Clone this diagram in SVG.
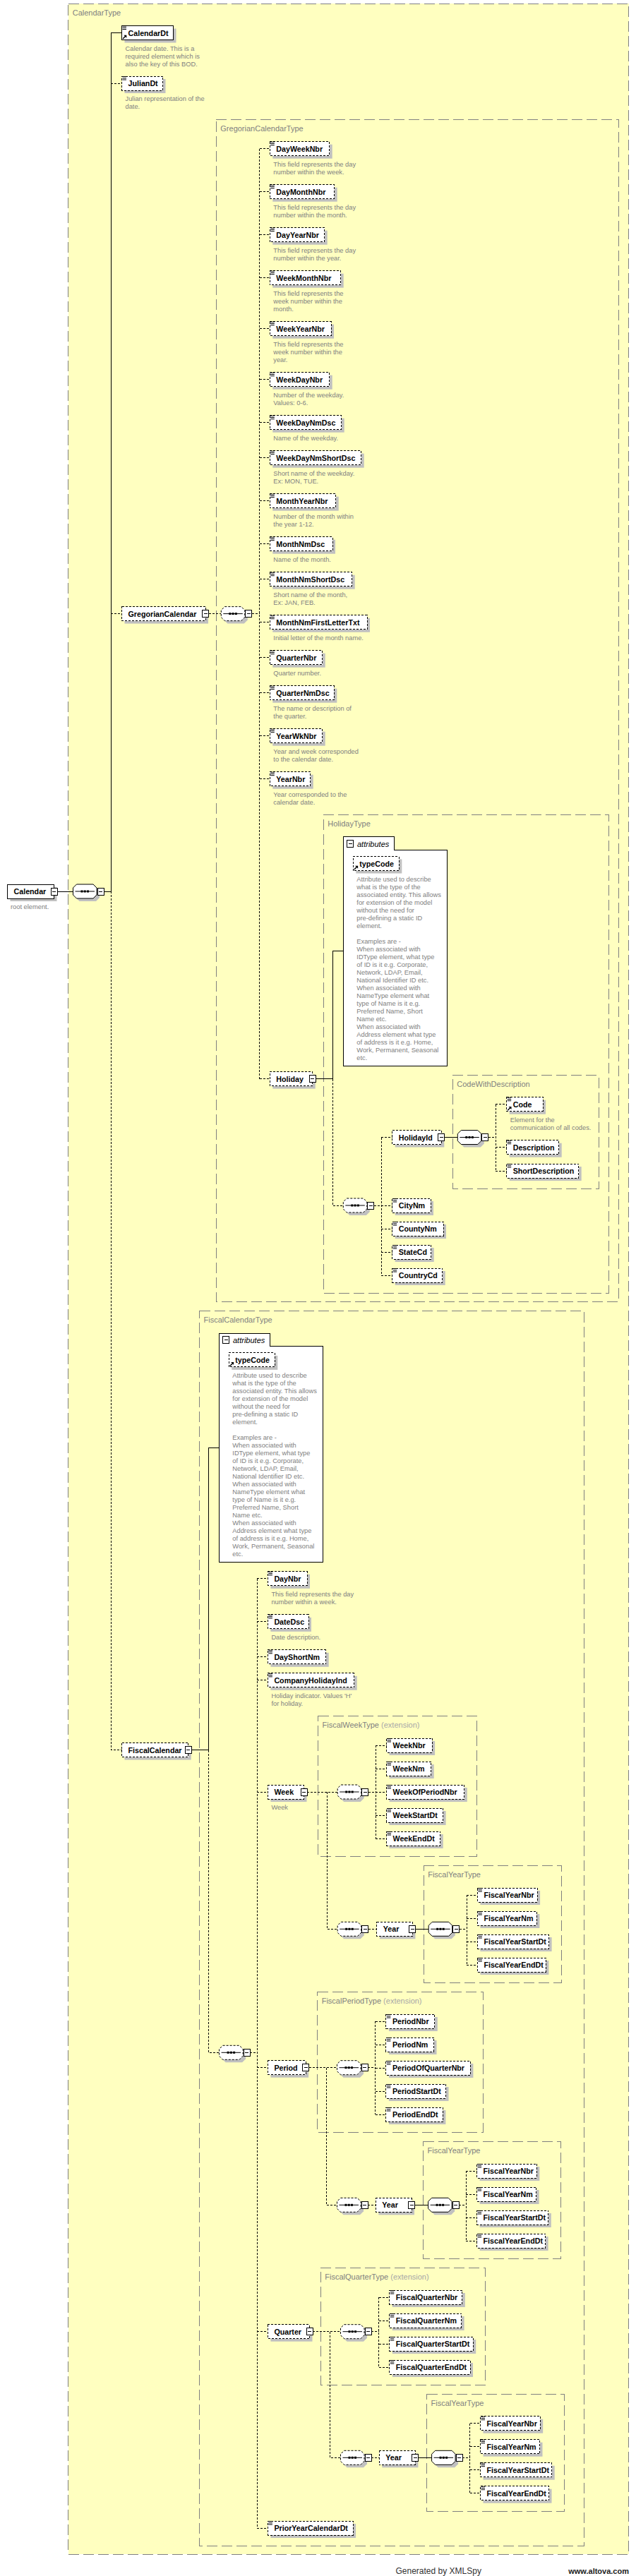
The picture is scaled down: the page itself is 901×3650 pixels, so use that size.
<svg xmlns="http://www.w3.org/2000/svg" width="901" height="3650" viewBox="0 0 901 3650">
<style>
.ct{fill:#FFFFC0;stroke:#808080;stroke-dasharray:15,6;shape-rendering:crispEdges}
.sh{fill:#C0C0C0;stroke:none}
.m{fill:#fff;stroke:#000;shape-rendering:crispEdges}
.o{fill:#fff;stroke:#000;stroke-dasharray:3,2;shape-rendering:crispEdges}
.ab{fill:#fff;stroke:#000;shape-rendering:crispEdges}
.cs{fill:none;stroke:#000;shape-rendering:crispEdges}
.cd{fill:none;stroke:#000;stroke-dasharray:3,2;shape-rendering:crispEdges}
.t{font-family:"Liberation Sans",Arial,sans-serif;font-size:10.7px;font-weight:bold;fill:#000}
.d{font-family:"Liberation Sans",Arial,sans-serif;font-size:9.3px;fill:#808080}
.l{font-family:"Liberation Sans",Arial,sans-serif;font-size:11px;fill:#808080}
.x{fill:#a8a8a8}
.a{font-family:"Liberation Sans",Arial,sans-serif;font-size:11px;font-style:italic;fill:#000}
.f{font-family:"Liberation Sans",Arial,sans-serif;font-size:12px;fill:#333}
.fb{font-family:"Liberation Sans",Arial,sans-serif;font-size:11px;font-weight:bold;fill:#222}
</style>
<defs>
<g id="mn"><rect x="-4.5" y="-5" width="9" height="10" fill="#fff" stroke="#000" shape-rendering="crispEdges"/><path d="M-2.5,0H2.5" stroke="#000" shape-rendering="crispEdges"/></g>
<g id="dc"><path d="M1,0.5H6.5M1,2.8H6.5M1,5H6.5" stroke="#000" stroke-width="1"/></g>
<g id="rf"><path d="M1.5,18.5L5.5,14.5" stroke="#000" stroke-width="1.4"/><path d="M2.8,13.2H6.8V17.2Z" fill="#000"/></g>
<g id="sqd"><path class="sh" d="M9,-6H32.5L37.5,-1V9L32.5,14H9L4,9V-1Z"/><path d="M5,-10H28.5L33.5,-5V5L28.5,10H5L0,5V-5Z" fill="#fff" stroke="#000" stroke-dasharray="3,2"/><path d="M3,0H30.5" stroke="#000"/><rect x="11" y="-1.5" width="3" height="3"/><rect x="15.25" y="-1.5" width="3" height="3"/><rect x="19.5" y="-1.5" width="3" height="3"/></g>
<g id="sqs"><path class="sh" d="M9,-6H32.5L37.5,-1V9L32.5,14H9L4,9V-1Z"/><path d="M5,-10H28.5L33.5,-5V5L28.5,10H5L0,5V-5Z" fill="#fff" stroke="#000"/><path d="M3,0H30.5" stroke="#000"/><rect x="11" y="-1.5" width="3" height="3"/><rect x="15.25" y="-1.5" width="3" height="3"/><rect x="19.5" y="-1.5" width="3" height="3"/></g>
</defs>
<rect x="0" y="0" width="901" height="3650" fill="#fff"/>

<!-- type containers -->
<g id="types">
<rect class="ct" x="96.7" y="5.3" width="794" height="3614"/>
<text class="l" x="102.7" y="22">CalendarType</text>
<rect class="ct" x="306.3" y="169" width="570.4" height="1675.3"/>
<text class="l" x="312.3" y="185.7">GregorianCalendarType</text>
<rect class="ct" x="458.3" y="1154.3" width="404" height="678"/>
<text class="l" x="464.3" y="1171">HolidayType</text>
<rect class="ct" x="641.3" y="1523.7" width="207" height="160.3"/>
<text class="l" x="647.3" y="1540.4">CodeWithDescription</text>
<rect class="ct" x="282.5" y="1857.3" width="544.8" height="1749.7"/>
<text class="l" x="288.5" y="1874">FiscalCalendarType</text>
<rect class="ct" x="450.5" y="2431.7" width="225" height="198.6"/>
<text class="l" x="456.5" y="2448.4">FiscalWeekType<tspan class="x"> (extension)</tspan></text>
<rect class="ct" x="600.2" y="2643.3" width="195" height="166"/>
<text class="l" x="606.2" y="2660">FiscalYearType</text>
<rect class="ct" x="449.7" y="2822.5" width="234.6" height="198.5"/>
<text class="l" x="455.7" y="2839.2">FiscalPeriodType<tspan class="x"> (extension)</tspan></text>
<rect class="ct" x="599.6" y="3034.3" width="194.7" height="165.7"/>
<text class="l" x="605.6" y="3051">FiscalYearType</text>
<rect class="ct" x="454.3" y="3213.3" width="233.3" height="165.7"/>
<text class="l" x="460.3" y="3230">FiscalQuarterType<tspan class="x"> (extension)</tspan></text>
<rect class="ct" x="604.6" y="3392.3" width="194.7" height="166"/>
<text class="l" x="610.6" y="3409">FiscalYearType</text>
</g>

<!-- connectors -->
<g id="connectors">
<path class="cs" d="M81,1263H103.5M147,1263H157.3M157.3,46.5V1263M157.3,46.5H172.5"/>
<path class="cd" d="M157.3,118H172.5M157.3,869.6H172.5M157.3,1263V2479.6H172.5"/>
<path class="cd" d="M295.5,869.6H313.3M356.8,869.6H367.5M367.5,210.7V1528.6"/>
<path class="cd" d="M367.5,210.7H382.3M367.5,271.7H382.3M367.5,332.7H382.3M367.5,393.7H382.3M367.5,465.7H382.3M367.5,537.7H382.3M367.5,598.7H382.3M367.5,648.7H382.3M367.5,709.7H382.3M367.5,770.7H382.3M367.5,820.7H382.3M367.5,881.7H382.3M367.5,931.7H382.3M367.5,981.7H382.3M367.5,1042.7H382.3M367.5,1103.7H382.3M367.5,1528.6H382.3"/>
<path class="cs" d="M447.2,1528.6H471.3V1347.9H486.3"/>
<path class="cd" d="M471.3,1528.6V1708H486.3M529.8,1708H540.3M540.3,1611.5V1807M540.3,1611.5H555.7M540.3,1708H555.7M540.3,1741H555.7M540.3,1774H555.7M540.3,1807H555.7"/>
<path class="cs" d="M629.8,1611.5H648.3"/>
<path class="cd" d="M691.8,1611.5H702.3M702.3,1564.7V1659M702.3,1564.7H717.7M702.3,1625.7H717.7M702.3,1659H717.7"/>
<path class="cs" d="M271.2,2479.6H295.3V2051.3H310.3"/>
<path class="cd" d="M295.3,2479.6V2908.3H310.6M354.1,2908.3H364.3M364.3,2236.8V3582M364.3,2236.8H379.4M364.3,2297.8H379.4M364.3,2347.8H379.4M364.3,2380.8H379.4M364.3,2539H379.4M364.3,2929.7H379.4M364.3,3303.7H379.4M364.3,3582H379.4"/>
<path class="cd" d="M435,2539H478.2M463.5,2539V2733.3H478.2M521.7,2539H532.4M532.4,2473V2605M532.4,2473H547.5M532.4,2506H547.5M532.4,2539H547.5M532.4,2572H547.5M532.4,2605H547.5M521.7,2733.3H533.8"/>
<path class="cs" d="M588.9,2733.3H607.2"/>
<path class="cd" d="M650.7,2733.3H661.3M661.3,2685V2784M661.3,2685H676.4M661.3,2718H676.4M661.3,2751H676.4M661.3,2784H676.4"/>
<path class="cd" d="M437.6,2929.7H477.5M462.6,2929.7V3124.3H477.5M521,2929.7H531.5M531.5,2864V2996M531.5,2864H546.9M531.5,2897H546.9M531.5,2930H546.9M531.5,2963H546.9M531.5,2996H546.9M521,3124.3H532.3"/>
<path class="cs" d="M587.5,3124.3H606.6"/>
<path class="cd" d="M650.1,3124.3H660.2M660.2,3076V3175M660.2,3076H675.6M660.2,3109H675.6M660.2,3142H675.6M660.2,3175H675.6"/>
<path class="cd" d="M443,3303.7H482.5M467.6,3303.7V3482.3H482.5M526,3303.7H536.5M536.5,3255V3354M536.5,3255H551.8M536.5,3288H551.8M536.5,3321H551.8M536.5,3354H551.8M526,3482.3H537.3"/>
<path class="cs" d="M592.9,3482.3H611.6"/>
<path class="cd" d="M655.1,3482.3H665.6M665.6,3433.7V3532.7M665.6,3433.7H680.5M665.6,3466.7H680.5M665.6,3499.7H680.5M665.6,3532.7H680.5"/>
</g>

<!-- root -->
<g id="e-Calendar"><rect class="sh" x="14.5" y="1257" width="66" height="20"/><rect class="m" x="10.5" y="1253" width="66" height="20"/><text class="t" x="19.5" y="1267">Calendar</text><use href="#mn" x="76.5" y="1263"/><text class="d" x="15" y="1288">root element.</text></g>
<g id="s-root"><use href="#sqs" x="103.5" y="1263"/><use href="#mn" x="142.5" y="1263"/></g>

<g id="e-CalendarDt"><rect class="sh" x="176.5" y="40.5" width="73" height="20"/><rect class="m" x="172.5" y="36.5" width="73" height="20"/><use href="#dc" x="172.5" y="36.5"/><use href="#rf" x="172.5" y="36.5"/><text class="t" x="181.5" y="50.5">CalendarDt</text><text class="d"><tspan x="177.5" y="71.5">Calendar date. This is a</tspan><tspan x="177.5" y="82.5">required element which is</tspan><tspan x="177.5" y="93.5">also the key of this BOD.</tspan></text></g>
<g id="e-JulianDt"><rect class="sh" x="176.5" y="112" width="58" height="20"/><rect class="o" x="172.5" y="108" width="58" height="20"/><use href="#dc" x="172.5" y="108"/><text class="t" x="181.5" y="122">JulianDt</text><text class="d"><tspan x="177.5" y="143">Julian representation of the</tspan><tspan x="177.5" y="154">date.</tspan></text></g>
<g id="e-GregorianCalendar"><rect class="sh" x="176.5" y="863.6" width="118.5" height="20"/><rect class="o" x="172.5" y="859.6" width="118.5" height="20"/><text class="t" x="181.5" y="873.6">GregorianCalendar</text><use href="#mn" x="291" y="869.6"/></g>
<g id="e-FiscalCalendar"><rect class="sh" x="176.5" y="2473.6" width="94.2" height="20"/><rect class="o" x="172.5" y="2469.6" width="94.2" height="20"/><text class="t" x="181.5" y="2483.6">FiscalCalendar</text><use href="#mn" x="266.7" y="2479.6"/></g>

<!-- Gregorian -->
<g id="s-greg"><use href="#sqd" x="313.3" y="869.6"/><use href="#mn" x="352.3" y="869.6"/></g>
<g id="e-DayWeekNbr"><rect class="sh" x="386.3" y="204.7" width="84.4" height="20"/><rect class="o" x="382.3" y="200.7" width="84.4" height="20"/><use href="#dc" x="382.3" y="200.7"/><text class="t" x="391.3" y="214.7">DayWeekNbr</text><text class="d"><tspan x="387.3" y="235.7">This field represents the day</tspan><tspan x="387.3" y="246.7">number within the week.</tspan></text></g>
<g id="e-DayMonthNbr"><rect class="sh" x="386.3" y="265.7" width="91.4" height="20"/><rect class="o" x="382.3" y="261.7" width="91.4" height="20"/><use href="#dc" x="382.3" y="261.7"/><text class="t" x="391.3" y="275.7">DayMonthNbr</text><text class="d"><tspan x="387.3" y="296.7">This field represents the day</tspan><tspan x="387.3" y="307.7">number within the month.</tspan></text></g>
<g id="e-DayYearNbr"><rect class="sh" x="386.3" y="326.7" width="77.4" height="20"/><rect class="o" x="382.3" y="322.7" width="77.4" height="20"/><use href="#dc" x="382.3" y="322.7"/><text class="t" x="391.3" y="336.7">DayYearNbr</text><text class="d"><tspan x="387.3" y="357.7">This field represents the day</tspan><tspan x="387.3" y="368.7">number within the year.</tspan></text></g>
<g id="e-WeekMonthNbr"><rect class="sh" x="386.3" y="387.7" width="100.4" height="20"/><rect class="o" x="382.3" y="383.7" width="100.4" height="20"/><use href="#dc" x="382.3" y="383.7"/><text class="t" x="391.3" y="397.7">WeekMonthNbr</text><text class="d"><tspan x="387.3" y="418.7">This field represents the</tspan><tspan x="387.3" y="429.7">week number within the</tspan><tspan x="387.3" y="440.7">month.</tspan></text></g>
<g id="e-WeekYearNbr"><rect class="sh" x="386.3" y="459.7" width="86.7" height="20"/><rect class="o" x="382.3" y="455.7" width="86.7" height="20"/><use href="#dc" x="382.3" y="455.7"/><text class="t" x="391.3" y="469.7">WeekYearNbr</text><text class="d"><tspan x="387.3" y="490.7">This field represents the</tspan><tspan x="387.3" y="501.7">week number within the</tspan><tspan x="387.3" y="512.7">year.</tspan></text></g>
<g id="e-WeekDayNbr"><rect class="sh" x="386.3" y="531.7" width="84.4" height="20"/><rect class="o" x="382.3" y="527.7" width="84.4" height="20"/><use href="#dc" x="382.3" y="527.7"/><text class="t" x="391.3" y="541.7">WeekDayNbr</text><text class="d"><tspan x="387.3" y="562.7">Number of the weekday.</tspan><tspan x="387.3" y="573.7">Values: 0-6.</tspan></text></g>
<g id="e-WeekDayNmDsc"><rect class="sh" x="386.3" y="592.7" width="101.4" height="20"/><rect class="o" x="382.3" y="588.7" width="101.4" height="20"/><use href="#dc" x="382.3" y="588.7"/><text class="t" x="391.3" y="602.7">WeekDayNmDsc</text><text class="d" x="387.3" y="623.7">Name of the weekday.</text></g>
<g id="e-WeekDayNmShortDsc"><rect class="sh" x="386.3" y="642.7" width="129.4" height="20"/><rect class="o" x="382.3" y="638.7" width="129.4" height="20"/><use href="#dc" x="382.3" y="638.7"/><text class="t" x="391.3" y="652.7">WeekDayNmShortDsc</text><text class="d"><tspan x="387.3" y="673.7">Short name of the weekday.</tspan><tspan x="387.3" y="684.7">Ex: MON, TUE.</tspan></text></g>
<g id="e-MonthYearNbr"><rect class="sh" x="386.3" y="703.7" width="93.4" height="20"/><rect class="o" x="382.3" y="699.7" width="93.4" height="20"/><use href="#dc" x="382.3" y="699.7"/><text class="t" x="391.3" y="713.7">MonthYearNbr</text><text class="d"><tspan x="387.3" y="734.7">Number of the month within</tspan><tspan x="387.3" y="745.7">the year 1-12.</tspan></text></g>
<g id="e-MonthNmDsc"><rect class="sh" x="386.3" y="764.7" width="88.7" height="20"/><rect class="o" x="382.3" y="760.7" width="88.7" height="20"/><use href="#dc" x="382.3" y="760.7"/><text class="t" x="391.3" y="774.7">MonthNmDsc</text><text class="d" x="387.3" y="795.7">Name of the month.</text></g>
<g id="e-MonthNmShortDsc"><rect class="sh" x="386.3" y="814.7" width="116.4" height="20"/><rect class="o" x="382.3" y="810.7" width="116.4" height="20"/><use href="#dc" x="382.3" y="810.7"/><text class="t" x="391.3" y="824.7">MonthNmShortDsc</text><text class="d"><tspan x="387.3" y="845.7">Short name of the month,</tspan><tspan x="387.3" y="856.7">Ex: JAN, FEB.</tspan></text></g>
<g id="e-MonthNmFirstLetterTxt"><rect class="sh" x="386.3" y="875.7" width="137.7" height="20"/><rect class="o" x="382.3" y="871.7" width="137.7" height="20"/><use href="#dc" x="382.3" y="871.7"/><text class="t" x="391.3" y="885.7">MonthNmFirstLetterTxt</text><text class="d" x="387.3" y="906.7">Initial letter of the month name.</text></g>
<g id="e-QuarterNbr"><rect class="sh" x="386.3" y="925.7" width="74.4" height="20"/><rect class="o" x="382.3" y="921.7" width="74.4" height="20"/><use href="#dc" x="382.3" y="921.7"/><text class="t" x="391.3" y="935.7">QuarterNbr</text><text class="d" x="387.3" y="956.7">Quarter number.</text></g>
<g id="e-QuarterNmDsc"><rect class="sh" x="386.3" y="975.7" width="91" height="20"/><rect class="o" x="382.3" y="971.7" width="91" height="20"/><use href="#dc" x="382.3" y="971.7"/><text class="t" x="391.3" y="985.7">QuarterNmDsc</text><text class="d"><tspan x="387.3" y="1006.7">The name or description of</tspan><tspan x="387.3" y="1017.7">the quarter.</tspan></text></g>
<g id="e-YearWkNbr"><rect class="sh" x="386.3" y="1036.7" width="74.4" height="20"/><rect class="o" x="382.3" y="1032.7" width="74.4" height="20"/><use href="#dc" x="382.3" y="1032.7"/><text class="t" x="391.3" y="1046.7">YearWkNbr</text><text class="d"><tspan x="387.3" y="1067.7">Year and week corresponded</tspan><tspan x="387.3" y="1078.7">to the calendar date.</tspan></text></g>
<g id="e-YearNbr"><rect class="sh" x="386.3" y="1097.7" width="57.4" height="20"/><rect class="o" x="382.3" y="1093.7" width="57.4" height="20"/><use href="#dc" x="382.3" y="1093.7"/><text class="t" x="391.3" y="1107.7">YearNbr</text><text class="d"><tspan x="387.3" y="1128.7">Year corresponded to the</tspan><tspan x="387.3" y="1139.7">calendar date.</tspan></text></g>
<g id="e-Holiday"><rect class="sh" x="386.3" y="1522.6" width="60.4" height="20"/><rect class="o" x="382.3" y="1518.6" width="60.4" height="20"/><text class="t" x="391.3" y="1532.6">Holiday</text><use href="#mn" x="442.7" y="1528.6"/></g>

<!-- Holiday attributes -->
<g id="attr-holiday">
<path class="ab" d="M486.3,1185.7H558.3V1204.3H633.3V1510H486.3Z"/>
<use href="#mn" x="496.2" y="1195.5"/>
<text class="a" x="506" y="1199.5">attributes</text>
<rect class="sh" x="504.3" y="1217.5" width="65" height="20"/><rect class="o" x="500.3" y="1213.5" width="65" height="20"/><use href="#rf" x="500.3" y="1213.5"/><text class="t" x="509.3" y="1227.5">typeCode</text>
<text class="d"><tspan x="505.3" y="1249">Attribute used to describe</tspan><tspan x="505.3" y="1260">what is the type of the</tspan><tspan x="505.3" y="1271">associated entity. This allows</tspan><tspan x="505.3" y="1282">for extension of the model</tspan><tspan x="505.3" y="1293">without the need for</tspan><tspan x="505.3" y="1304">pre-defining a static ID</tspan><tspan x="505.3" y="1315">element.</tspan><tspan x="505.3" y="1337">Examples are -</tspan><tspan x="505.3" y="1348">When associated with</tspan><tspan x="505.3" y="1359">IDType element, what type</tspan><tspan x="505.3" y="1370">of ID is it e.g. Corporate,</tspan><tspan x="505.3" y="1381">Network, LDAP, Email,</tspan><tspan x="505.3" y="1392">National Identifier ID etc.</tspan><tspan x="505.3" y="1403">When associated with</tspan><tspan x="505.3" y="1414">NameType element what</tspan><tspan x="505.3" y="1425">type of Name is it e.g.</tspan><tspan x="505.3" y="1436">Preferred Name, Short</tspan><tspan x="505.3" y="1447">Name etc.</tspan><tspan x="505.3" y="1458">When associated with</tspan><tspan x="505.3" y="1469">Address element what type</tspan><tspan x="505.3" y="1480">of address is it e.g. Home,</tspan><tspan x="505.3" y="1491">Work, Permanent, Seasonal</tspan><tspan x="505.3" y="1502">etc.</tspan></text>
</g>

<g id="s-holiday"><use href="#sqd" x="486.3" y="1708"/><use href="#mn" x="525.3" y="1708"/></g>
<g id="e-HolidayId"><rect class="sh" x="559.7" y="1605.5" width="69.6" height="20"/><rect class="o" x="555.7" y="1601.5" width="69.6" height="20"/><text class="t" x="564.7" y="1615.5">HolidayId</text><use href="#mn" x="625.3" y="1611.5"/></g>
<g id="s-cwd"><use href="#sqs" x="648.3" y="1611.5"/><use href="#mn" x="687.3" y="1611.5"/></g>
<g id="e-Code"><rect class="sh" x="721.7" y="1558.7" width="51.3" height="20"/><rect class="o" x="717.7" y="1554.7" width="51.3" height="20"/><use href="#dc" x="717.7" y="1554.7"/><use href="#rf" x="717.7" y="1554.7"/><text class="t" x="726.7" y="1568.7">Code</text><text class="d"><tspan x="722.7" y="1589.7">Element for the</tspan><tspan x="722.7" y="1600.7">communication of all codes.</tspan></text></g>
<g id="e-Description"><rect class="sh" x="721.7" y="1619.7" width="74" height="20"/><rect class="o" x="717.7" y="1615.7" width="74" height="20"/><use href="#dc" x="717.7" y="1615.7"/><text class="t" x="726.7" y="1629.7">Description</text></g>
<g id="e-ShortDescription"><rect class="sh" x="721.7" y="1653" width="102" height="20"/><rect class="o" x="717.7" y="1649" width="102" height="20"/><use href="#dc" x="717.7" y="1649"/><text class="t" x="726.7" y="1663">ShortDescription</text></g>
<g id="e-CityNm"><rect class="sh" x="559.7" y="1702" width="54.3" height="20"/><rect class="o" x="555.7" y="1698" width="54.3" height="20"/><use href="#dc" x="555.7" y="1698"/><text class="t" x="564.7" y="1712">CityNm</text></g>
<g id="e-CountyNm"><rect class="sh" x="559.7" y="1735" width="72.3" height="20"/><rect class="o" x="555.7" y="1731" width="72.3" height="20"/><use href="#dc" x="555.7" y="1731"/><text class="t" x="564.7" y="1745">CountyNm</text></g>
<g id="e-StateCd"><rect class="sh" x="559.7" y="1768" width="55" height="20"/><rect class="o" x="555.7" y="1764" width="55" height="20"/><use href="#dc" x="555.7" y="1764"/><text class="t" x="564.7" y="1778">StateCd</text></g>
<g id="e-CountryCd"><rect class="sh" x="559.7" y="1801" width="71" height="20"/><rect class="o" x="555.7" y="1797" width="71" height="20"/><use href="#dc" x="555.7" y="1797"/><text class="t" x="564.7" y="1811">CountryCd</text></g>

<!-- Fiscal attributes -->
<g id="attr-fiscal" transform="translate(-176,703.4)">
<path class="ab" d="M486.3,1185.7H558.3V1204.3H633.3V1510H486.3Z"/>
<use href="#mn" x="496.2" y="1195.5"/>
<text class="a" x="506" y="1199.5">attributes</text>
<rect class="sh" x="504.3" y="1217.5" width="65" height="20"/><rect class="o" x="500.3" y="1213.5" width="65" height="20"/><use href="#rf" x="500.3" y="1213.5"/><text class="t" x="509.3" y="1227.5">typeCode</text>
<text class="d"><tspan x="505.3" y="1249">Attribute used to describe</tspan><tspan x="505.3" y="1260">what is the type of the</tspan><tspan x="505.3" y="1271">associated entity. This allows</tspan><tspan x="505.3" y="1282">for extension of the model</tspan><tspan x="505.3" y="1293">without the need for</tspan><tspan x="505.3" y="1304">pre-defining a static ID</tspan><tspan x="505.3" y="1315">element.</tspan><tspan x="505.3" y="1337">Examples are -</tspan><tspan x="505.3" y="1348">When associated with</tspan><tspan x="505.3" y="1359">IDType element, what type</tspan><tspan x="505.3" y="1370">of ID is it e.g. Corporate,</tspan><tspan x="505.3" y="1381">Network, LDAP, Email,</tspan><tspan x="505.3" y="1392">National Identifier ID etc.</tspan><tspan x="505.3" y="1403">When associated with</tspan><tspan x="505.3" y="1414">NameType element what</tspan><tspan x="505.3" y="1425">type of Name is it e.g.</tspan><tspan x="505.3" y="1436">Preferred Name, Short</tspan><tspan x="505.3" y="1447">Name etc.</tspan><tspan x="505.3" y="1458">When associated with</tspan><tspan x="505.3" y="1469">Address element what type</tspan><tspan x="505.3" y="1480">of address is it e.g. Home,</tspan><tspan x="505.3" y="1491">Work, Permanent, Seasonal</tspan><tspan x="505.3" y="1502">etc.</tspan></text>
</g>

<!-- Fiscal -->
<g id="s-fiscal"><use href="#sqd" x="310.6" y="2908.3"/><use href="#mn" x="349.6" y="2908.3"/></g>
<g id="e-DayNbr"><rect class="sh" x="383.4" y="2230.8" width="55.6" height="20"/><rect class="o" x="379.4" y="2226.8" width="55.6" height="20"/><use href="#dc" x="379.4" y="2226.8"/><text class="t" x="388.4" y="2240.8">DayNbr</text><text class="d"><tspan x="384.4" y="2261.8">This field represents the day</tspan><tspan x="384.4" y="2272.8">number within a week.</tspan></text></g>
<g id="e-DateDsc"><rect class="sh" x="383.4" y="2291.8" width="57.6" height="20"/><rect class="o" x="379.4" y="2287.8" width="57.6" height="20"/><use href="#dc" x="379.4" y="2287.8"/><text class="t" x="388.4" y="2301.8">DateDsc</text><text class="d" x="384.4" y="2322.8">Date description.</text></g>
<g id="e-DayShortNm"><rect class="sh" x="383.4" y="2341.8" width="82.3" height="20"/><rect class="o" x="379.4" y="2337.8" width="82.3" height="20"/><use href="#dc" x="379.4" y="2337.8"/><text class="t" x="388.4" y="2351.8">DayShortNm</text></g>
<g id="e-CompanyHolidayInd"><rect class="sh" x="383.4" y="2374.8" width="122.3" height="20"/><rect class="o" x="379.4" y="2370.8" width="122.3" height="20"/><use href="#dc" x="379.4" y="2370.8"/><text class="t" x="388.4" y="2384.8">CompanyHolidayInd</text><text class="d"><tspan x="384.4" y="2405.8">Holiday indicator. Values 'H'</tspan><tspan x="384.4" y="2416.8">for holiday.</tspan></text></g>
<g id="e-Week"><rect class="sh" x="383.4" y="2533" width="51.1" height="20"/><rect class="o" x="379.4" y="2529" width="51.1" height="20"/><text class="t" x="388.4" y="2543">Week</text><use href="#mn" x="430.5" y="2539"/><text class="d" x="384.4" y="2564">Week</text></g>
<g id="e-Period"><rect class="sh" x="383.4" y="2923.7" width="53.7" height="20"/><rect class="o" x="379.4" y="2919.7" width="53.7" height="20"/><text class="t" x="388.4" y="2933.7">Period</text><use href="#mn" x="433.1" y="2929.7"/></g>
<g id="e-Quarter"><rect class="sh" x="383.4" y="3297.7" width="59.1" height="20"/><rect class="o" x="379.4" y="3293.7" width="59.1" height="20"/><text class="t" x="388.4" y="3307.7">Quarter</text><use href="#mn" x="438.5" y="3303.7"/></g>
<g id="e-PriorYearCalendarDt"><rect class="sh" x="383.4" y="3576" width="120.6" height="20"/><rect class="o" x="379.4" y="3572" width="120.6" height="20"/><use href="#dc" x="379.4" y="3572"/><text class="t" x="388.4" y="3586">PriorYearCalendarDt</text></g>

<!-- Week -->
<g id="s-week1"><use href="#sqd" x="478.2" y="2539"/><use href="#mn" x="517.2" y="2539"/></g>
<g id="e-WeekNbr"><rect class="sh" x="551.5" y="2467" width="64.6" height="20"/><rect class="o" x="547.5" y="2463" width="64.6" height="20"/><use href="#dc" x="547.5" y="2463"/><text class="t" x="556.5" y="2477">WeekNbr</text></g>
<g id="e-WeekNm"><rect class="sh" x="551.5" y="2500" width="63.2" height="20"/><rect class="o" x="547.5" y="2496" width="63.2" height="20"/><use href="#dc" x="547.5" y="2496"/><text class="t" x="556.5" y="2510">WeekNm</text></g>
<g id="e-WeekOfPeriodNbr"><rect class="sh" x="551.5" y="2533" width="110.3" height="20"/><rect class="o" x="547.5" y="2529" width="110.3" height="20"/><use href="#dc" x="547.5" y="2529"/><text class="t" x="556.5" y="2543">WeekOfPeriodNbr</text></g>
<g id="e-WeekStartDt"><rect class="sh" x="551.5" y="2566" width="80.1" height="20"/><rect class="o" x="547.5" y="2562" width="80.1" height="20"/><use href="#dc" x="547.5" y="2562"/><text class="t" x="556.5" y="2576">WeekStartDt</text></g>
<g id="e-WeekEndDt"><rect class="sh" x="551.5" y="2599" width="76.2" height="20"/><rect class="o" x="547.5" y="2595" width="76.2" height="20"/><use href="#dc" x="547.5" y="2595"/><text class="t" x="556.5" y="2609">WeekEndDt</text></g>
<g id="s-week2"><use href="#sqd" x="478.2" y="2733.3"/><use href="#mn" x="517.2" y="2733.3"/></g>
<g id="e-Year-w"><rect class="sh" x="537.8" y="2727.3" width="50.6" height="20"/><rect class="o" x="533.8" y="2723.3" width="50.6" height="20"/><text class="t" x="542.8" y="2737.3">Year</text><use href="#mn" x="584.4" y="2733.3"/></g>
<g id="s-year-w"><use href="#sqs" x="607.2" y="2733.3"/><use href="#mn" x="646.2" y="2733.3"/></g>
<g id="e-FiscalYearNbr-w"><rect class="sh" x="680.4" y="2679" width="84.7" height="20"/><rect class="o" x="676.4" y="2675" width="84.7" height="20"/><use href="#dc" x="676.4" y="2675"/><text class="t" x="685.4" y="2689">FiscalYearNbr</text></g>
<g id="e-FiscalYearNm-w"><rect class="sh" x="680.4" y="2712" width="84" height="20"/><rect class="o" x="676.4" y="2708" width="84" height="20"/><use href="#dc" x="676.4" y="2708"/><text class="t" x="685.4" y="2722">FiscalYearNm</text></g>
<g id="e-FiscalYearStartDt-w"><rect class="sh" x="680.4" y="2745" width="101.2" height="20"/><rect class="o" x="676.4" y="2741" width="101.2" height="20"/><use href="#dc" x="676.4" y="2741"/><text class="t" x="685.4" y="2755">FiscalYearStartDt</text></g>
<g id="e-FiscalYearEndDt-w"><rect class="sh" x="680.4" y="2778" width="97" height="20"/><rect class="o" x="676.4" y="2774" width="97" height="20"/><use href="#dc" x="676.4" y="2774"/><text class="t" x="685.4" y="2788">FiscalYearEndDt</text></g>

<!-- Period -->
<g id="s-period1"><use href="#sqd" x="477.5" y="2929.7"/><use href="#mn" x="516.5" y="2929.7"/></g>
<g id="e-PeriodNbr"><rect class="sh" x="550.9" y="2858" width="68.9" height="20"/><rect class="o" x="546.9" y="2854" width="68.9" height="20"/><use href="#dc" x="546.9" y="2854"/><text class="t" x="555.9" y="2868">PeriodNbr</text></g>
<g id="e-PeriodNm"><rect class="sh" x="550.9" y="2891" width="67.6" height="20"/><rect class="o" x="546.9" y="2887" width="67.6" height="20"/><use href="#dc" x="546.9" y="2887"/><text class="t" x="555.9" y="2901">PeriodNm</text></g>
<g id="e-PeriodOfQuarterNbr"><rect class="sh" x="550.9" y="2924" width="119.5" height="20"/><rect class="o" x="546.9" y="2920" width="119.5" height="20"/><use href="#dc" x="546.9" y="2920"/><text class="t" x="555.9" y="2934">PeriodOfQuarterNbr</text></g>
<g id="e-PeriodStartDt"><rect class="sh" x="550.9" y="2957" width="84.6" height="20"/><rect class="o" x="546.9" y="2953" width="84.6" height="20"/><use href="#dc" x="546.9" y="2953"/><text class="t" x="555.9" y="2967">PeriodStartDt</text></g>
<g id="e-PeriodEndDt"><rect class="sh" x="550.9" y="2990" width="80.5" height="20"/><rect class="o" x="546.9" y="2986" width="80.5" height="20"/><use href="#dc" x="546.9" y="2986"/><text class="t" x="555.9" y="3000">PeriodEndDt</text></g>
<g id="s-period2"><use href="#sqd" x="477.5" y="3124.3"/><use href="#mn" x="516.5" y="3124.3"/></g>
<g id="e-Year-p"><rect class="sh" x="536.3" y="3118.3" width="50.7" height="20"/><rect class="o" x="532.3" y="3114.3" width="50.7" height="20"/><text class="t" x="541.3" y="3128.3">Year</text><use href="#mn" x="583" y="3124.3"/></g>
<g id="s-year-p"><use href="#sqs" x="606.6" y="3124.3"/><use href="#mn" x="645.6" y="3124.3"/></g>
<g id="e-FiscalYearNbr-p"><rect class="sh" x="679.6" y="3070" width="84.7" height="20"/><rect class="o" x="675.6" y="3066" width="84.7" height="20"/><use href="#dc" x="675.6" y="3066"/><text class="t" x="684.6" y="3080">FiscalYearNbr</text></g>
<g id="e-FiscalYearNm-p"><rect class="sh" x="679.6" y="3103" width="84" height="20"/><rect class="o" x="675.6" y="3099" width="84" height="20"/><use href="#dc" x="675.6" y="3099"/><text class="t" x="684.6" y="3113">FiscalYearNm</text></g>
<g id="e-FiscalYearStartDt-p"><rect class="sh" x="679.6" y="3136" width="101.2" height="20"/><rect class="o" x="675.6" y="3132" width="101.2" height="20"/><use href="#dc" x="675.6" y="3132"/><text class="t" x="684.6" y="3146">FiscalYearStartDt</text></g>
<g id="e-FiscalYearEndDt-p"><rect class="sh" x="679.6" y="3169" width="97" height="20"/><rect class="o" x="675.6" y="3165" width="97" height="20"/><use href="#dc" x="675.6" y="3165"/><text class="t" x="684.6" y="3179">FiscalYearEndDt</text></g>

<!-- Quarter -->
<g id="s-quarter1"><use href="#sqd" x="482.5" y="3303.7"/><use href="#mn" x="521.5" y="3303.7"/></g>
<g id="e-FiscalQuarterNbr"><rect class="sh" x="555.8" y="3249" width="103" height="20"/><rect class="o" x="551.8" y="3245" width="103" height="20"/><use href="#dc" x="551.8" y="3245"/><text class="t" x="560.8" y="3259">FiscalQuarterNbr</text></g>
<g id="e-FiscalQuarterNm"><rect class="sh" x="555.8" y="3282" width="101.8" height="20"/><rect class="o" x="551.8" y="3278" width="101.8" height="20"/><use href="#dc" x="551.8" y="3278"/><text class="t" x="560.8" y="3292">FiscalQuarterNm</text></g>
<g id="e-FiscalQuarterStartDt"><rect class="sh" x="555.8" y="3315" width="118.4" height="20"/><rect class="o" x="551.8" y="3311" width="118.4" height="20"/><use href="#dc" x="551.8" y="3311"/><text class="t" x="560.8" y="3325">FiscalQuarterStartDt</text></g>
<g id="e-FiscalQuarterEndDt"><rect class="sh" x="555.8" y="3348" width="114.2" height="20"/><rect class="o" x="551.8" y="3344" width="114.2" height="20"/><use href="#dc" x="551.8" y="3344"/><text class="t" x="560.8" y="3358">FiscalQuarterEndDt</text></g>
<g id="s-quarter2"><use href="#sqd" x="482.5" y="3482.3"/><use href="#mn" x="521.5" y="3482.3"/></g>
<g id="e-Year-q"><rect class="sh" x="541.3" y="3476.3" width="51.1" height="20"/><rect class="o" x="537.3" y="3472.3" width="51.1" height="20"/><text class="t" x="546.3" y="3486.3">Year</text><use href="#mn" x="588.4" y="3482.3"/></g>
<g id="s-year-q"><use href="#sqs" x="611.6" y="3482.3"/><use href="#mn" x="650.6" y="3482.3"/></g>
<g id="e-FiscalYearNbr-q"><rect class="sh" x="684.5" y="3427.7" width="84.7" height="20"/><rect class="o" x="680.5" y="3423.7" width="84.7" height="20"/><use href="#dc" x="680.5" y="3423.7"/><text class="t" x="689.5" y="3437.7">FiscalYearNbr</text></g>
<g id="e-FiscalYearNm-q"><rect class="sh" x="684.5" y="3460.7" width="84" height="20"/><rect class="o" x="680.5" y="3456.7" width="84" height="20"/><use href="#dc" x="680.5" y="3456.7"/><text class="t" x="689.5" y="3470.7">FiscalYearNm</text></g>
<g id="e-FiscalYearStartDt-q"><rect class="sh" x="684.5" y="3493.7" width="101.2" height="20"/><rect class="o" x="680.5" y="3489.7" width="101.2" height="20"/><use href="#dc" x="680.5" y="3489.7"/><text class="t" x="689.5" y="3503.7">FiscalYearStartDt</text></g>
<g id="e-FiscalYearEndDt-q"><rect class="sh" x="684.5" y="3526.7" width="97" height="20"/><rect class="o" x="680.5" y="3522.7" width="97" height="20"/><use href="#dc" x="680.5" y="3522.7"/><text class="t" x="689.5" y="3536.7">FiscalYearEndDt</text></g>

<!-- footer -->
<g id="footer">
<text class="f" x="560.5" y="3647">Generated by XMLSpy</text>
<text class="fb" x="891" y="3647" text-anchor="end">www.altova.com</text>
</g>
</svg>
